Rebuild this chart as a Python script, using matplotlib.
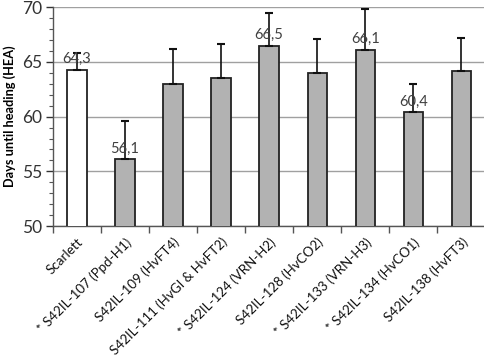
import matplotlib.pyplot as plt
import numpy as np

lines = ['Scarlett', '* S42IL-107 (Ppd-H1)', 'S42IL-109 (HvFT4)', 'S42IL-111 (HvGI & HvFT2)',
         '* S42IL-124 (VRN-H2)', 'S42IL-128 (HvCO2)', '* S42IL-133 (VRN-H3)',
         '* S42IL-134 (HvCO1)', 'S42IL-138 (HvFT3)']
hea = [64.3, 56.1, 63.0, 63.5, 66.5, 64.0, 66.1, 60.4, 64.2]
err = [1.5, 3.5, 3.2, 3.1, 3.0, 3.1, 3.7, 2.6, 3.0]
labelled = ['64,3', '56,1', '', '', '66,5', '', '66,1', '60,4', '']

plt.rcParams['font.family'] = ['Lato', 'DejaVu Sans']

fig = plt.figure(figsize=(4.84, 3.6), dpi=100)
ax = fig.add_axes([0.1095, 0.372, 0.893, 0.608])

x = np.arange(len(lines))
colors = ['white'] + ['#b2b2b2'] * (len(lines) - 1)
ax.bar(x, hea, 0.4, color=colors, edgecolor='#222222', linewidth=1.3, zorder=3)
ax.errorbar(x, hea, yerr=[np.zeros(len(err)), err], fmt='none', ecolor='#111111',
            elinewidth=1.2, capsize=3, capthick=1.5, zorder=4)
for xi, v, t in zip(x, hea, labelled):
    if t:
        ax.text(xi, v + 0.35, t, ha='center', va='bottom', fontsize=10.5, color='#404040', zorder=5)

ax.set_ylim(50, 70)
ax.set_xlim(-0.5, len(lines) - 0.5)
ax.set_yticks([50, 55, 60, 65, 70])
ax.set_yticks(np.arange(50, 71, 1), minor=True)
ax.yaxis.grid(True, color='#a0a0a0', linewidth=1, zorder=0)
ax.tick_params(axis='y', labelsize=12.5, colors='#333333', length=5, width=1, direction='out', pad=3)
ax.tick_params(axis='y', which='minor', length=3, width=0.8, colors='#555555')
ax.set_xticks(x - 0.5, minor=True)
ax.set_xticks(x)
ax.set_xticklabels(lines, rotation=45, ha='right', rotation_mode='anchor', fontsize=9.6)
ax.tick_params(axis='x', which='major', length=0, pad=7, colors='#111111')
ax.tick_params(axis='x', which='minor', length=5, width=1, colors='#555555')
for s in ['top', 'right']:
    ax.spines[s].set_visible(False)
for s in ['left', 'bottom']:
    ax.spines[s].set_color('#555555')
    ax.spines[s].set_linewidth(1)
ax.set_ylabel('Days until heading (HEA)', fontsize=9.2, fontweight='bold', labelpad=4)

fig.savefig('out.png', dpi=100)
